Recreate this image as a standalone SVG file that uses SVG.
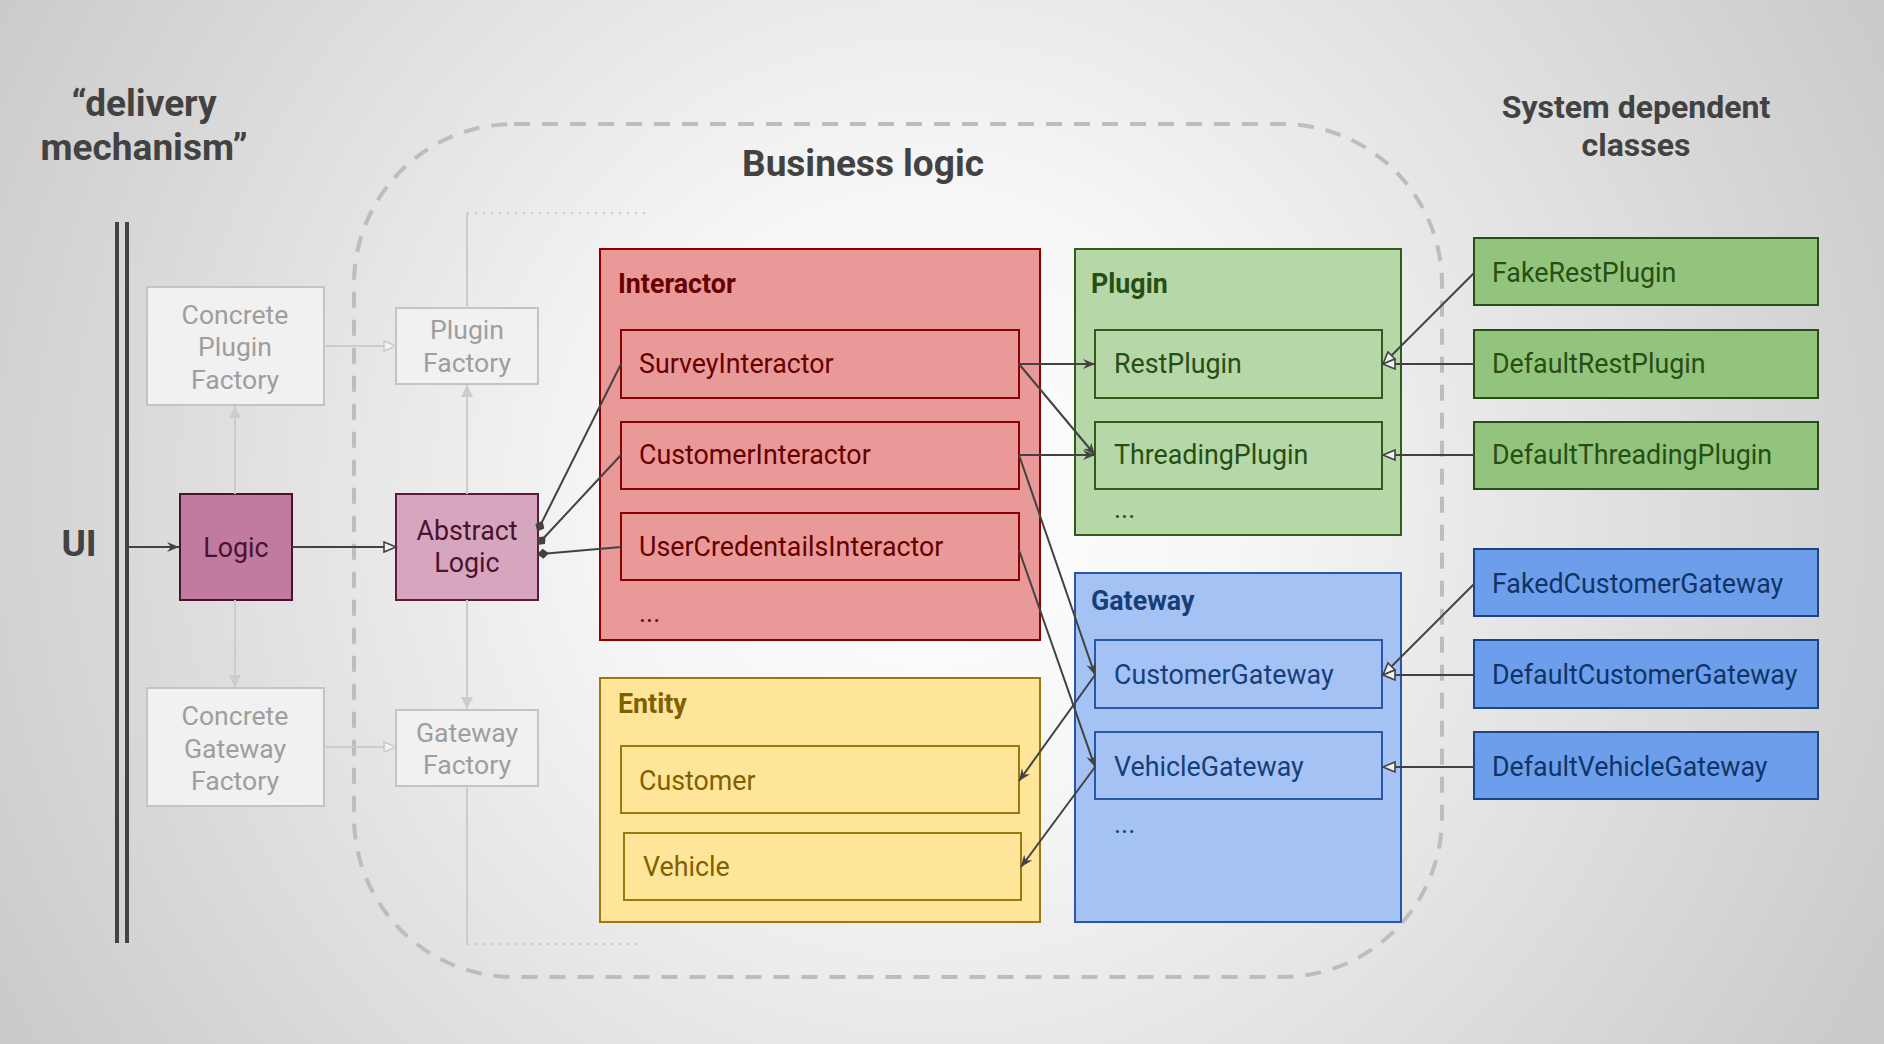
<svg xmlns="http://www.w3.org/2000/svg" width="1884" height="1044" viewBox="0 0 1884 1044">
<defs>
<radialGradient id="bg" gradientUnits="userSpaceOnUse" cx="930" cy="500" r="1050">
<stop offset="0" stop-color="#ffffff"/>
<stop offset="0.3" stop-color="#f6f6f6"/>
<stop offset="1" stop-color="#cbcbcb"/>
</radialGradient>
<marker id="stealth" markerUnits="userSpaceOnUse" markerWidth="14" markerHeight="12" refX="12" refY="5" orient="auto">
<path d="M0,0 L12,5 L0,10 L4,5 z" fill="#424242"/>
</marker>
<marker id="hollow" markerUnits="userSpaceOnUse" markerWidth="16" markerHeight="14" refX="13" refY="6" orient="auto">
<path d="M1,1 L13,6 L1,11 z" fill="#eef2ee" stroke="#424242" stroke-width="1.6"/>
</marker>
<marker id="hollowGray" markerUnits="userSpaceOnUse" markerWidth="16" markerHeight="14" refX="13" refY="6" orient="auto">
<path d="M1,1 L13,6 L1,11 z" fill="#f2f2f2" stroke="#cccccc" stroke-width="1.6"/>
</marker>
<marker id="grayArrow" markerUnits="userSpaceOnUse" markerWidth="14" markerHeight="14" refX="12" refY="6" orient="auto">
<path d="M0,0 L12,6 L0,12 z" fill="#cccccc"/>
</marker>
<marker id="diamond" markerUnits="userSpaceOnUse" markerWidth="14" markerHeight="12" refX="8" refY="5" orient="auto">
<path d="M0,5 L6,0 L12,5 L6,10 z" fill="#424242"/>
</marker>
</defs>
<style>
text { font-family: Roboto, "Liberation Sans", sans-serif; }
.title { font-size: 37px; font-weight: bold; fill: #424242; }
.ghost rect { fill: #f1f1f1; stroke: #c4c4c4; stroke-width: 2; }
.ghost text { font-size: 26.6px; fill: #9e9e9e; text-anchor: middle; }
.lbl { font-size: 26.8px; }
.gt { font-size: 26.8px; font-weight: bold; }
.dark { fill: none; stroke: #424242; stroke-width: 2; }
.gray { fill: none; stroke: #cccccc; stroke-width: 2; }
.red rect { fill: #ea9999; stroke: #8b0000; stroke-width: 2; }
.red text { fill: #660000; }
.yel rect { fill: #ffe599; stroke: #9a7a10; stroke-width: 2; }
.yel text { fill: #7f6000; }
.grn rect { fill: #b6d7a8; stroke: #2f5e19; stroke-width: 2; }
.grn text { fill: #274e13; }
.blu rect { fill: #a4c2f4; stroke: #2a56a8; stroke-width: 2; }
.blu text { fill: #163f7a; }
.grn2 rect { fill: #93c47d; stroke: #274e13; stroke-width: 2; }
.grn2 text { fill: #274e13; }
.blu2 rect { fill: #6d9eeb; stroke: #1c4587; stroke-width: 2; }
.blu2 text { fill: #0f3566; }
</style>
<rect x="0" y="0" width="1884" height="1044" fill="url(#bg)"/>

<g id="titles">
<text class="title" x="144" y="116" text-anchor="middle">“delivery</text>
<text class="title" x="144" y="160" text-anchor="middle">mechanism”</text>
<text class="title" x="863" y="176" text-anchor="middle">Business logic</text>
<text class="title" x="1636" y="118" text-anchor="middle" style="font-size:32px">System dependent</text>
<text class="title" x="1636" y="156" text-anchor="middle" style="font-size:32px">classes</text>
<text class="title" x="79" y="556" text-anchor="middle">UI</text>
</g>

<g id="ui-boundary">
<line x1="117" y1="222" x2="117" y2="943" stroke="#424242" stroke-width="4"/>
<line x1="127" y1="222" x2="127" y2="943" stroke="#424242" stroke-width="4"/>
</g>

<g id="business-logic-boundary">
<rect x="354" y="124" width="1088" height="853" rx="160" ry="160" fill="none" stroke="#bdbdbd" stroke-width="4" stroke-dasharray="16 12"/>
</g>

<g id="concrete-plugin-factory" class="ghost">
<rect x="147" y="287" width="177" height="118"/>
<text x="235" y="324">Concrete</text>
<text x="235" y="356">Plugin</text>
<text x="235" y="389">Factory</text>
</g>
<g id="plugin-factory" class="ghost">
<rect x="396" y="308" width="142" height="76"/>
<text x="467" y="339">Plugin</text>
<text x="467" y="372">Factory</text>
</g>
<g id="concrete-gateway-factory" class="ghost">
<rect x="147" y="688" width="177" height="118"/>
<text x="235" y="725">Concrete</text>
<text x="235" y="758">Gateway</text>
<text x="235" y="790">Factory</text>
</g>
<g id="gateway-factory" class="ghost">
<rect x="396" y="710" width="142" height="76"/>
<text x="467" y="742">Gateway</text>
<text x="467" y="774">Factory</text>
</g>

<g id="logic">
<rect x="180" y="494" width="112" height="106" fill="#c27ba0" stroke="#4c1130" stroke-width="2"/>
<text class="lbl" x="236" y="557" text-anchor="middle" fill="#4c1130">Logic</text>
</g>
<g id="abstract-logic">
<rect x="396" y="494" width="142" height="106" fill="#d5a6bd" stroke="#5b1a3e" stroke-width="2"/>
<text class="lbl" x="467" y="540" text-anchor="middle" fill="#4c1130">Abstract</text>
<text class="lbl" x="467" y="572" text-anchor="middle" fill="#4c1130">Logic</text>
</g>

<g id="interactor" class="red">
<rect x="600" y="249" width="440" height="391"/>
<text class="gt" x="618" y="293">Interactor</text>
</g>
<g id="survey-interactor" class="red">
<rect x="621" y="330" width="398" height="68"/>
<text class="lbl" x="639" y="373">SurveyInteractor</text>
</g>
<g id="customer-interactor" class="red">
<rect x="621" y="422" width="398" height="67"/>
<text class="lbl" x="639" y="464">CustomerInteractor</text>
</g>
<g id="user-credentials-interactor" class="red">
<rect x="621" y="513" width="398" height="67"/>
<text class="lbl" x="639" y="556">UserCredentailsInteractor</text>
<text class="lbl" x="639" y="622">...</text>
</g>

<g id="entity" class="yel">
<rect x="600" y="678" width="440" height="244"/>
<text class="gt" x="618" y="713">Entity</text>
</g>
<g id="customer" class="yel">
<rect x="621" y="746" width="398" height="67"/>
<text class="lbl" x="639" y="790">Customer</text>
</g>
<g id="vehicle" class="yel">
<rect x="624" y="833" width="397" height="67"/>
<text class="lbl" x="643" y="876">Vehicle</text>
</g>

<g id="plugin" class="grn">
<rect x="1075" y="249" width="326" height="286"/>
<text class="gt" x="1091" y="293">Plugin</text>
<text class="lbl" x="1114" y="518">...</text>
</g>
<g id="rest-plugin" class="grn">
<rect x="1095" y="330" width="287" height="68"/>
<text class="lbl" x="1114" y="373">RestPlugin</text>
</g>
<g id="threading-plugin" class="grn">
<rect x="1095" y="422" width="287" height="67"/>
<text class="lbl" x="1114" y="464">ThreadingPlugin</text>
</g>

<g id="gateway" class="blu">
<rect x="1075" y="573" width="326" height="349"/>
<text class="gt" x="1091" y="610">Gateway</text>
<text class="lbl" x="1114" y="833">...</text>
</g>
<g id="customer-gateway" class="blu">
<rect x="1095" y="640" width="287" height="68"/>
<text class="lbl" x="1114" y="684">CustomerGateway</text>
</g>
<g id="vehicle-gateway" class="blu">
<rect x="1095" y="732" width="287" height="67"/>
<text class="lbl" x="1114" y="776">VehicleGateway</text>
</g>

<g id="fake-rest-plugin" class="grn2">
<rect x="1474" y="238" width="344" height="67"/>
<text class="lbl" x="1492" y="282">FakeRestPlugin</text>
</g>
<g id="default-rest-plugin" class="grn2">
<rect x="1474" y="330" width="344" height="68"/>
<text class="lbl" x="1492" y="373">DefaultRestPlugin</text>
</g>
<g id="default-threading-plugin" class="grn2">
<rect x="1474" y="422" width="344" height="67"/>
<text class="lbl" x="1492" y="464">DefaultThreadingPlugin</text>
</g>
<g id="faked-customer-gateway" class="blu2">
<rect x="1474" y="549" width="344" height="67"/>
<text class="lbl" x="1492" y="593">FakedCustomerGateway</text>
</g>
<g id="default-customer-gateway" class="blu2">
<rect x="1474" y="640" width="344" height="68"/>
<text class="lbl" x="1492" y="684">DefaultCustomerGateway</text>
</g>
<g id="default-vehicle-gateway" class="blu2">
<rect x="1474" y="732" width="344" height="67"/>
<text class="lbl" x="1492" y="776">DefaultVehicleGateway</text>
</g>

<g id="connectors">
<path class="gray" d="M467,308 L467,213"/>
<path d="M467,213 L645,213" fill="none" stroke="#c8c8c8" stroke-width="2" stroke-dasharray="2 6"/>
<path class="gray" d="M467,786 L467,944"/>
<path d="M467,944 L637,944" fill="none" stroke="#c8c8c8" stroke-width="2" stroke-dasharray="2 6"/>
<path class="gray" d="M235,494 L235,406" marker-end="url(#grayArrow)"/>
<path class="gray" d="M235,600 L235,687" marker-end="url(#grayArrow)"/>
<path class="gray" d="M467,494 L467,385" marker-end="url(#grayArrow)"/>
<path class="gray" d="M467,600 L467,709" marker-end="url(#grayArrow)"/>
<path class="gray" d="M324,346 L396,346" marker-end="url(#hollowGray)"/>
<path class="gray" d="M324,747 L396,747" marker-end="url(#hollowGray)"/>
<path class="dark" d="M127,547 L179,547" marker-end="url(#stealth)"/>
<path class="dark" d="M292,547 L396,547" marker-end="url(#hollow)"/>
<path class="dark" d="M621,364 L539,528" marker-end="url(#diamond)"/>
<path class="dark" d="M621,455 L540,542" marker-end="url(#diamond)"/>
<path class="dark" d="M621,547 L541,554" marker-end="url(#diamond)"/>
<path class="dark" d="M1019,364 L1095,364" marker-end="url(#stealth)"/>
<path class="dark" d="M1019,364 L1095,455" marker-end="url(#stealth)"/>
<path class="dark" d="M1019,455 L1095,455" marker-end="url(#stealth)"/>
<path class="dark" d="M1019,455 L1095,675" marker-end="url(#stealth)"/>
<path class="dark" d="M1019,550 L1095,767" marker-end="url(#stealth)"/>
<path class="dark" d="M1095,675 L1019,781" marker-end="url(#stealth)"/>
<path class="dark" d="M1095,767 L1021,867" marker-end="url(#stealth)"/>
<path class="dark" d="M1474,273 L1383,364" marker-end="url(#hollow)"/>
<path class="dark" d="M1474,364 L1383,364" marker-end="url(#hollow)"/>
<path class="dark" d="M1474,455 L1383,455" marker-end="url(#hollow)"/>
<path class="dark" d="M1474,584 L1383,675" marker-end="url(#hollow)"/>
<path class="dark" d="M1474,675 L1383,675" marker-end="url(#hollow)"/>
<path class="dark" d="M1474,767 L1383,767" marker-end="url(#hollow)"/>
</g>
</svg>
